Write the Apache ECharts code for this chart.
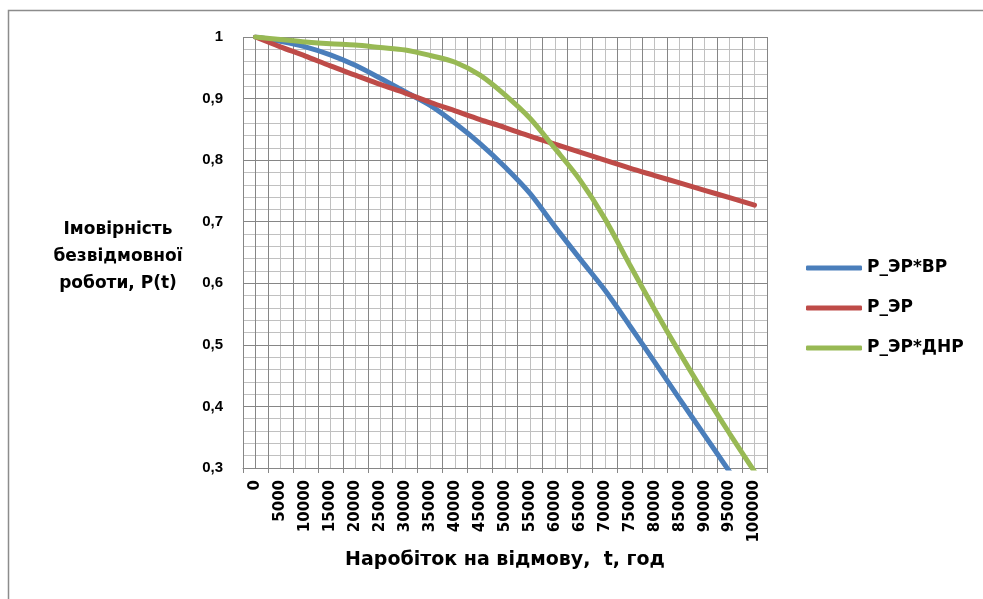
<!DOCTYPE html>
<html>
<head>
<meta charset="utf-8">
<script src="https://cdn.jsdelivr.net/npm/echarts@6/dist/echarts.min.js"></script>
<style>
html,body{margin:0;padding:0;background:#fff;}
#chart{width:983px;height:599px;}
</style>
</head>
<body>
<div id="chart"></div>
<script>
var categories = ['0','5000','10000','15000','20000','25000','30000','35000','40000','45000','50000','55000','60000','65000','70000','75000','80000','85000','90000','95000','100000'];
var seriesNames = ['Р_ЭР*ВР', 'Р_ЭР', 'Р_ЭР*ДНР'];
var pErVr  = [1.000,0.993,0.984,0.971,0.954,0.933,0.911,0.889,0.860,0.827,0.789,0.746,0.692,0.640,0.589,0.531,0.472,0.412,0.353,0.294,0.235];
var pEr    = [1.000,0.984,0.969,0.953,0.938,0.923,0.909,0.894,0.880,0.866,0.853,0.839,0.826,0.813,0.800,0.787,0.775,0.763,0.751,0.739,0.727];
var pErDnr = [1.000,0.996,0.992,0.989,0.987,0.983,0.979,0.970,0.959,0.938,0.906,0.868,0.819,0.768,0.705,0.630,0.557,0.487,0.420,0.356,0.294];
var yTickLabels = ['0,3','0,4','0,5','0,6','0,7','0,8','0,9','1'];
var xTitle = 'Наробіток на відмову,  t, год';
var yTitle = 'Імовірність\nбезвідмовної\nроботи, P(t)';

var FONT = '"DejaVu Sans", sans-serif';
var FONT2 = '"Liberation Sans", Arial, sans-serif';
var colors = ['#4A7EBB', '#BE4B48', '#98B954'];
var chart = echarts.init(document.getElementById('chart'), null, {renderer: 'canvas'});
var dataSets = [pErVr, pEr, pErDnr];
var series = dataSets.map(function (d, i) {
  return {
    name: seriesNames[i],
    type: 'line',
    xAxisIndex: 0,
    data: d,
    smooth: 0.3,
    symbol: 'none',
    showSymbol: false,
    lineStyle: {color: colors[i], width: 5, cap: 'round'},
    itemStyle: {color: colors[i]},
    z: 5
  };
});
chart.setOption({
  animation: false,
  backgroundColor: '#fff',
  color: colors,
  graphic: [{
    type: 'rect', left: 6, top: 8, shape: {x: 0, y: 0, width: 1100, height: 800},
    style: {fill: 'none', stroke: '#8c8c8c', lineWidth: 1.5}, silent: true
  }, {
    type: 'text', x: 118, y: 216, silent: true,
    style: {text: yTitle, fill: '#000', font: 'bold 17px "DejaVu Sans", sans-serif',
      textAlign: 'center', textVerticalAlign: 'top', lineHeight: 27}
  }],
  grid: {left: 243, top: 37, width: 524, height: 431, containLabel: false},
  legend: {
    orient: 'vertical', left: 801, top: 253, itemGap: 20,
    icon: 'roundRect', itemWidth: 56, itemHeight: 5,
    textStyle: {fontFamily: FONT, fontWeight: 'bold', fontSize: 17, color: '#000', lineHeight: 20},
    data: seriesNames
  },
  xAxis: [{
    type: 'category', data: categories, boundaryGap: true,
    name: xTitle, nameLocation: 'middle', nameGap: 77,
    nameTextStyle: {fontFamily: FONT, fontWeight: 'bold', fontSize: 19, color: '#000'},
    axisLine: {lineStyle: {color: '#868686', width: 1}},
    axisTick: {show: true, alignWithLabel: false, length: 5, lineStyle: {color: '#868686'}},
    axisLabel: {rotate: 90, interval: 0, margin: 12, fontFamily: FONT, fontWeight: 'bold', fontSize: 15, color: '#000'},
    splitLine: {show: true, interval: 0, lineStyle: {color: '#868686', width: 1}},
    z: 3
  }, {
    type: 'value', min: -2500, max: 102500, interval: 2500, position: 'bottom',
    axisLine: {show: false}, axisTick: {show: false}, axisLabel: {show: false},
    splitLine: {show: true, lineStyle: {color: '#c0c0c0', width: 1}},
    z: 1
  }],
  yAxis: {
    type: 'value', min: 0.3, max: 1, interval: 0.1,
    axisLine: {show: true, lineStyle: {color: '#868686', width: 1}},
    axisTick: {show: true, length: 6, lineStyle: {color: '#868686'}},
    axisLabel: {margin: 20, fontFamily: FONT2, fontWeight: 'bold', fontSize: 15, color: '#000',
      formatter: function (v) { return yTickLabels[Math.round((v - 0.3) * 10)]; }},
    splitLine: {show: true, lineStyle: {color: '#868686', width: 1}},
    minorTick: {show: false, splitNumber: 5},
    minorSplitLine: {show: true, lineStyle: {color: '#c0c0c0', width: 1}},
    z: 3
  },
  series: series
});
</script>
</body>
</html>
